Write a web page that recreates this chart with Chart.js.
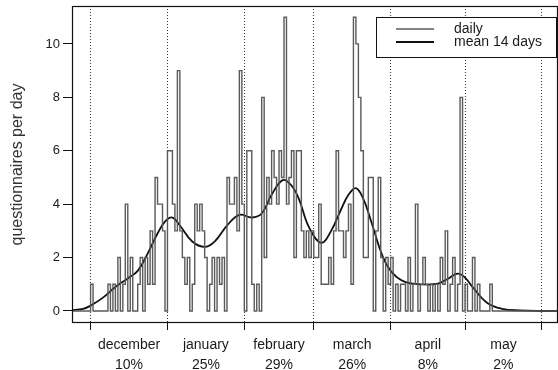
<!DOCTYPE html>
<html>
<head>
<meta charset="utf-8">
<script src="https://cdn.jsdelivr.net/npm/chart.js@4.4.0/dist/chart.umd.min.js"></script>
<style>
  body { margin: 0; background: #fff; }
  canvas { display: block; }
</style>
</head>
<body>
<canvas id="qChart" width="558" height="370"></canvas>
<script>
    // questionnaires per day, day 0 = 1 december
    const firstDay = -8;
    const before = [0, 0, 0, 0, 0, 0, 0, 0];
    const dec = [1,0,0,0,0,0,0,1,0,1,0,2,0,1,4,0,2,0,0,1,2,0,2,1,3,1,5,4,4,3,0];
    const jan = [6,6,4,3,9,3,2,1,2,0,1,4,3,4,3,2,0,1,2,0,2,1,2,0,5,4,4,5,3,9,4];
    const feb = [0,6,6,1,0,1,0,8,2,5,4,6,5,4,6,5,11,4,5,6,2,6,6,3,2,3,2,3];
    const mar = [2,2,4,1,1,1,2,1,3,6,3,3,2,3,4,1,11,10,8,6,2,2,5,5,0,3,5,2,0,2,1];
    const apr = [2,0,1,0,1,1,0,2,0,1,4,0,1,2,1,0,1,0,1,0,2,1,3,0,1,2,0,1,8,0];
    const may = [1,0,0,2,0,1,0,0,0,0,1,0,0,0,0,0,0,0,0,0,0,0,0,0,0,0,0,0,0,0,0];
    const after = [0, 0, 0, 0, 0, 0, 0];
    const daily = [...before, ...dec, ...jan, ...feb, ...mar, ...apr, ...may, ...after];

    // smoothed curve
    const meanDays = [-8, -3, 0, 5, 10, 15, 19, 23, 27, 30, 33, 36, 41, 46, 50, 55, 60, 65, 69, 73, 77.5, 81, 84, 88, 93, 97, 101, 104, 107, 110, 113, 118, 122, 127, 133, 140, 144, 148, 151, 154, 160, 166, 173, 182, 188];
    const meanValues = [0.03, 0.08, 0.2, 0.5, 0.9, 1.22, 1.5, 2.15, 2.9, 3.35, 3.5, 3.2, 2.6, 2.4, 2.6, 3.2, 3.6, 3.5, 3.65, 4.35, 4.9, 4.7, 4.2, 3.15, 2.55, 3.0, 3.8, 4.35, 4.6, 4.2, 3.4, 2.0, 1.4, 1.08, 1.0, 1.02, 1.2, 1.4, 1.25, 0.9, 0.3, 0.08, 0.02, 0, 0];

    const months = ['december', 'january', 'february', 'march', 'april', 'may'];
    const shares = ['10%', '25%', '29%', '26%', '8%', '2%'];
    const monthStarts = [0, 31, 62, 90, 121, 151, 182];
    const monthMids = months.map((m, i) => (monthStarts[i] + monthStarts[i + 1]) / 2);
    const yTicks = [0, 2, 4, 6, 8, 10];

    const fontFamily = '"Liberation Sans", Arial, Helvetica, sans-serif';
    const ink = '#1a1a1a';
    Chart.defaults.font.family = fontFamily;
    Chart.defaults.color = ink;

    const isStart = c => c.tick && monthStarts.includes(c.tick.value);

    const framePlugin = {
      id: 'frame',
      afterDraw(chart) {
        const { ctx, chartArea: a } = chart;
        ctx.save();
        ctx.strokeStyle = '#111';
        ctx.lineWidth = 1.2;
        ctx.strokeRect(a.left + 0.5, a.top + 0.5, a.right - a.left - 1, a.bottom - a.top - 1);

        // legend box, top right
        const w = 180, h = 40;
        const x0 = a.right - 2 - w, y0 = a.top + 11;
        ctx.fillStyle = '#fff';
        ctx.fillRect(x0, y0, w, h);
        ctx.lineWidth = 1;
        ctx.strokeRect(x0 + 0.5, y0 + 0.5, w, h);
        ctx.font = '14px ' + fontFamily;
        ctx.textBaseline = 'middle';
        chart.data.datasets.forEach((ds, i) => {
          const y = y0 + 12 + i * 13;
          ctx.strokeStyle = ds.borderColor;
          ctx.lineWidth = ds.borderWidth;
          ctx.beginPath();
          ctx.moveTo(x0 + 20, y);
          ctx.lineTo(x0 + 58, y);
          ctx.stroke();
          ctx.fillStyle = ink;
          ctx.fillText(ds.label, x0 + 78, y);
        });
        ctx.restore();
      }
    };

    new Chart(document.getElementById('qChart'), {
      type: 'line',
      data: {
        datasets: [{
          label: 'daily',
          data: daily.map((v, i) => ({ x: firstDay + i, y: v })),
          stepped: true,
          borderColor: '#5a5a5a',
          borderWidth: 1.4,
          pointRadius: 0,
          fill: false
        }, {
          label: 'mean 14 days',
          data: meanDays.map((d, i) => ({ x: d, y: meanValues[i] })),
          tension: 0.4,
          borderColor: '#111',
          borderWidth: 1.8,
          pointRadius: 0,
          fill: false
        }]
      },
      options: {
        responsive: false,
        devicePixelRatio: 1,
        animation: false,
        layout: { padding: { top: 6, right: 0, bottom: 0, left: 0 } },
        plugins: { legend: { display: false }, tooltip: { enabled: false } },
        scales: {
          x: {
            type: 'linear',
            min: -7.5,
            max: 188.5,
            afterBuildTicks: s => {
              s.ticks = [...monthStarts, ...monthMids].sort((a, b) => a - b).map(v => ({ value: v }));
            },
            afterFit: s => {
              s.height = 47;
              s.paddingLeft = 0;
              s.paddingRight = 0;
            },
            grid: {
              color: c => isStart(c) ? '#333' : 'rgba(0,0,0,0)',
              tickColor: c => isStart(c) ? '#111' : 'rgba(0,0,0,0)',
              lineWidth: 1,
              tickLength: 7
            },
            border: { display: false, dash: [1, 2] },
            ticks: {
              autoSkip: false,
              maxRotation: 0,
              padding: 5,
              color: ink,
              font: { size: 14, lineHeight: 1.45 },
              callback: v => {
                const k = monthMids.indexOf(v);
                return k < 0 ? '' : [months[k], shares[k]];
              }
            }
          },
          y: {
            min: -0.45,
            max: 11.42,
            afterBuildTicks: s => { s.ticks = yTicks.map(v => ({ value: v })); },
            afterFit: s => {
              s.width = 72;
              s.paddingTop = 0;
              s.paddingBottom = 0;
            },
            grid: { drawOnChartArea: false, tickLength: 9, color: '#111' },
            border: { display: false },
            ticks: { padding: 3, color: ink, font: { size: 13 } },
            title: {
              display: true,
              text: 'questionnaires per day',
              color: '#333',
              font: { size: 16 },
              padding: { top: 8, bottom: 0 }
            }
          }
        }
      },
      plugins: [framePlugin]
    });
</script>
</body>
</html>
